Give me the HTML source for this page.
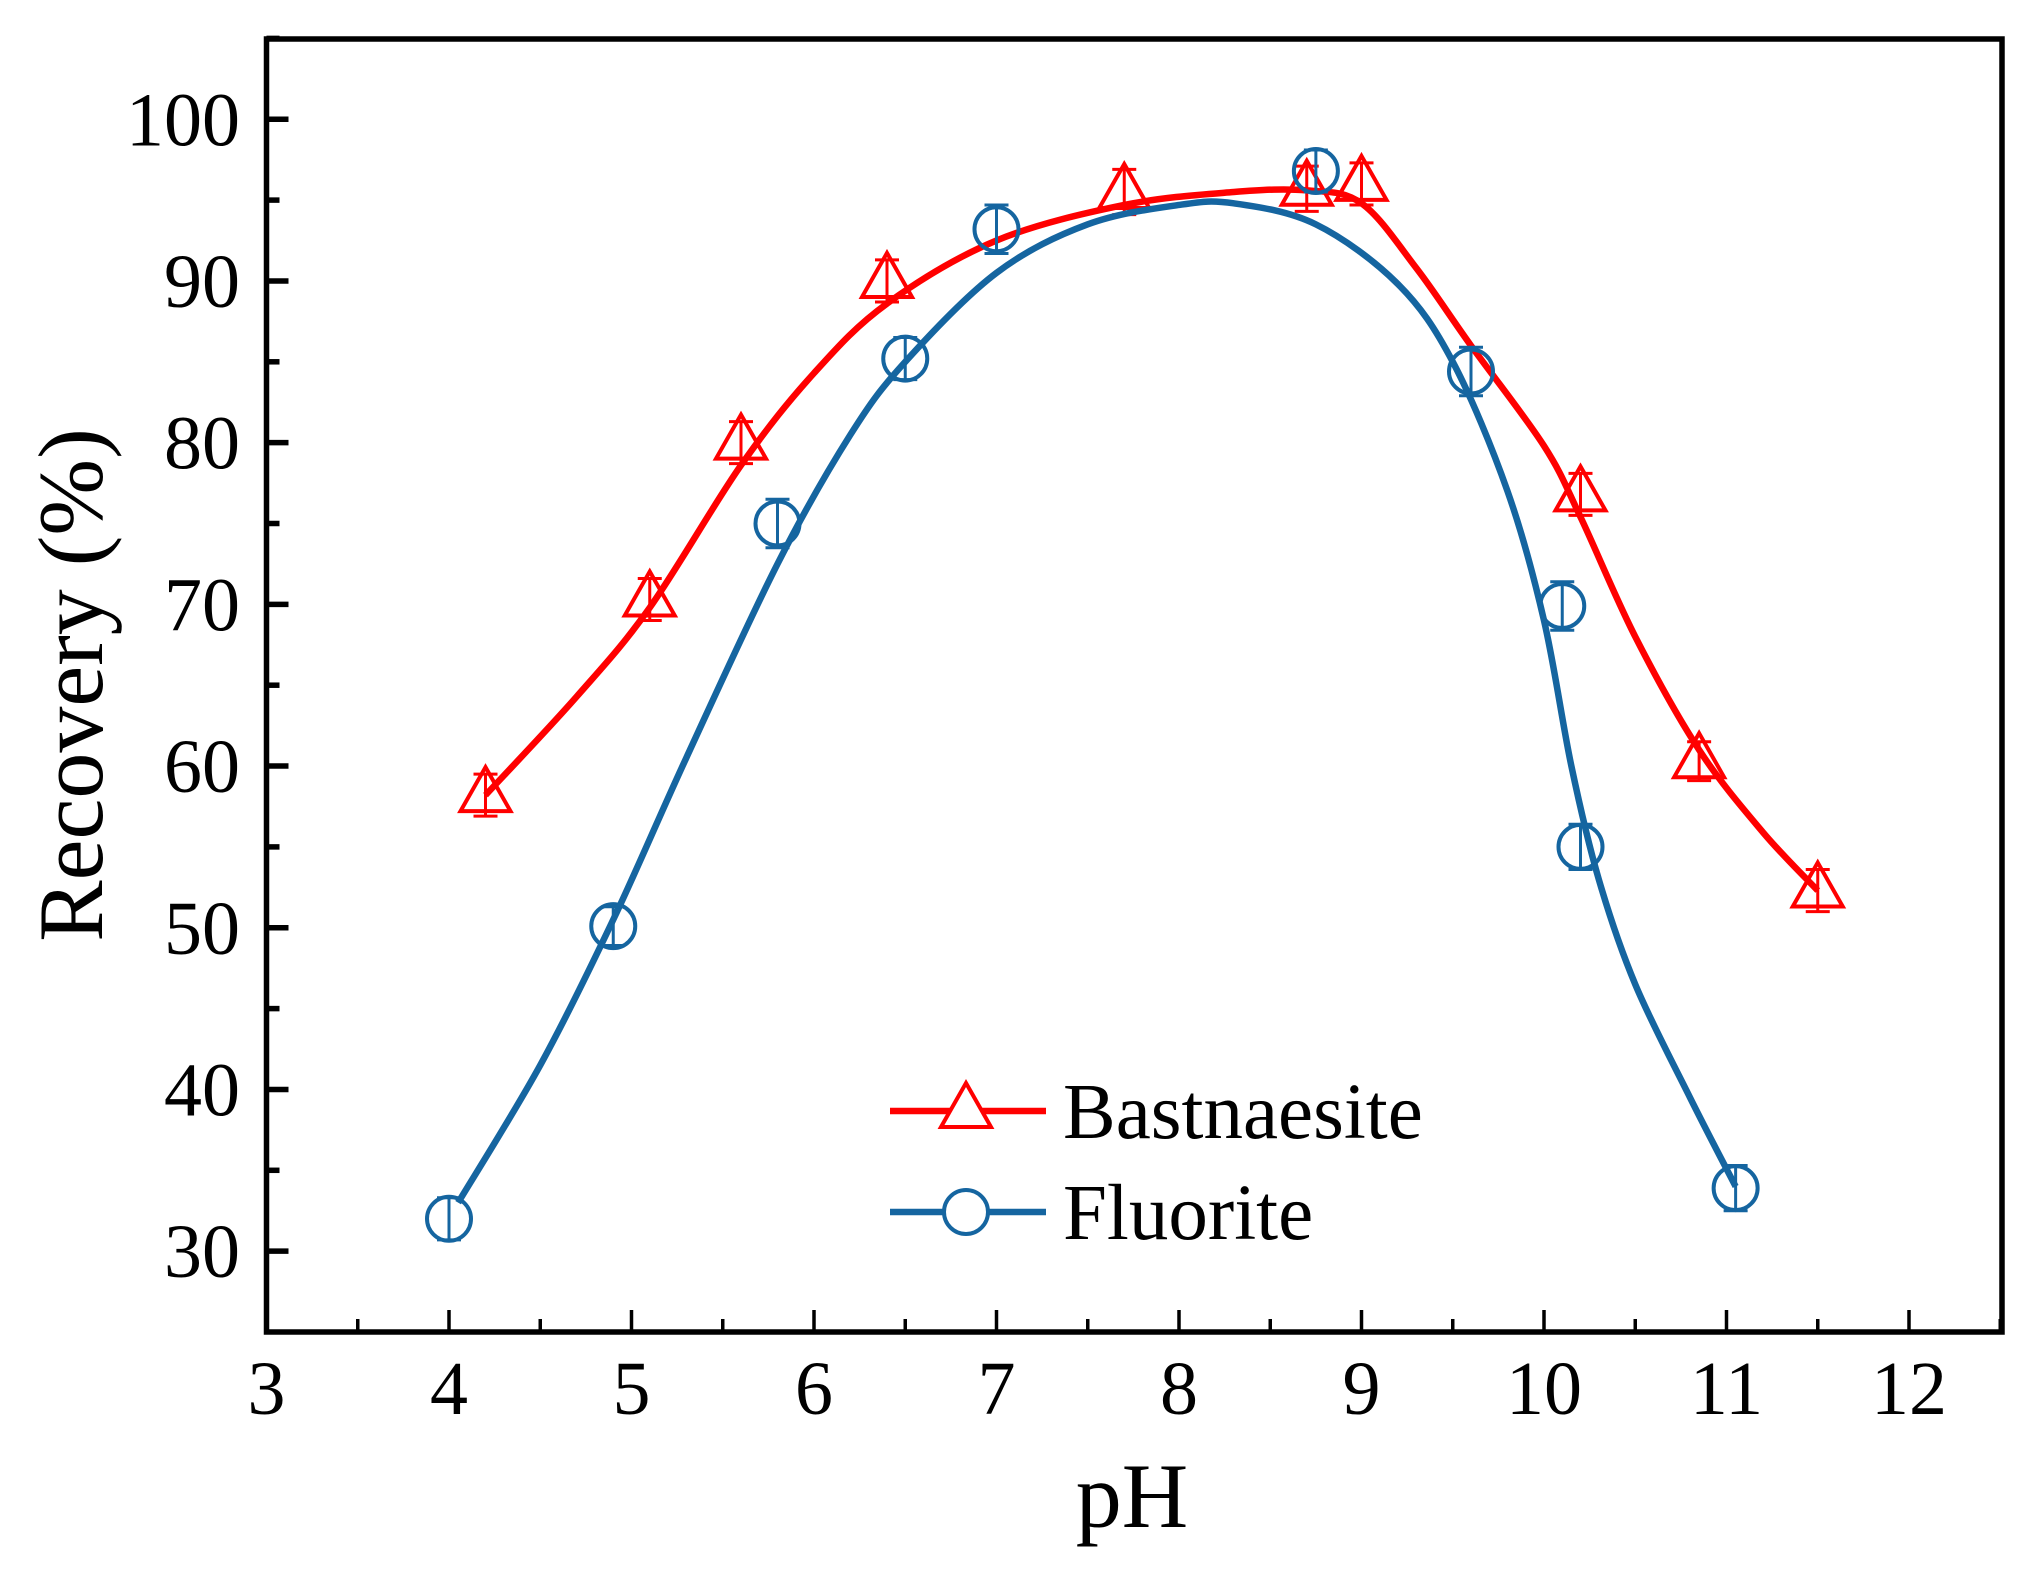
<!DOCTYPE html>
<html><head><meta charset="utf-8"><style>
html,body{margin:0;padding:0;background:#fff;}
svg{display:block;font-family:"Liberation Serif",serif;}
</style></head><body>
<svg id="chart" width="2038" height="1584" viewBox="0 0 2038 1584" xmlns="http://www.w3.org/2000/svg">
<rect width="2038" height="1584" fill="#fff"/>
<g id="plot"></g>
</svg>
<script>
const xTicks=[3,4,5,6,7,8,9,10,11,12];
const yTicks=[30,40,50,60,70,80,90,100];
const bastX=[4.2,5.1,5.6,6.4,7.7,8.7,9.0,10.2,10.85,11.5];
const bastY=[58.2,70.3,80.0,90.0,95.5,95.7,96.0,76.8,60.3,52.3];
const bastErr=[1.3,1.3,1.3,1.3,1.4,1.4,1.3,1.3,1.2,1.3];
const fluX=[4.0,4.9,5.8,6.5,7.0,8.75,9.6,10.1,10.2,11.05];
const fluY=[32.0,50.1,75.0,85.2,93.2,96.8,84.4,69.9,55.0,33.9];
const fluErr=[1.3,1.2,1.5,1.3,1.5,1.3,1.5,1.5,1.4,1.4];
const bastFitX=[4.2,4.7,5.1,5.6,6.0,6.4,7.0,7.7,8.3,8.7,9.0,9.3,9.6,10.0,10.2,10.5,10.85,11.2,11.5];
const bastFitY=[58.2,64.3,69.8,78.6,84.3,88.6,92.5,94.7,95.5,95.6,94.8,90.8,86.0,79.8,75.4,68.0,61.0,55.9,52.3];
const fluFitX=[4.05,4.5,4.9,5.3,5.8,6.2,6.5,7.0,7.5,8.0,8.3,8.75,9.2,9.5,9.8,10.0,10.15,10.3,10.5,10.8,11.05];
const fluFitY=[33.0,41.5,50.5,60.5,72.5,80.5,85.0,90.5,93.5,94.7,94.8,93.5,89.8,85.0,77.0,69.0,60.0,53.0,46.5,39.5,34.0];

const NS="http://www.w3.org/2000/svg";
const L=266.5,R=2002,T=39,B=1332;
const X=v=>L+(v-3)*182.5;
const Y=v=>B-(v-25)*16.17;
const g=document.getElementById('plot');
function mk(tag,attrs,parent){const e=document.createElementNS(NS,tag);for(const k in attrs)e.setAttribute(k,attrs[k]);(parent||g).appendChild(e);return e;}
function smooth(xs,ys){const p=xs.map((x,i)=>[X(x),Y(ys[i])]);let d=`M${p[0][0]},${p[0][1]}`;
for(let i=0;i<p.length-1;i++){const p0=p[i-1]||p[i],p1=p[i],p2=p[i+1],p3=p[i+2]||p2;
d+=` C${p1[0]+(p2[0]-p0[0])/6},${p1[1]+(p2[1]-p0[1])/6} ${p2[0]-(p3[0]-p1[0])/6},${p2[1]-(p3[1]-p1[1])/6} ${p2[0]},${p2[1]}`;}return d;}

xTicks.forEach(v=>{
 const t=mk('line',{x1:X(v),x2:X(v),y1:B,y2:B-22,stroke:'#000','stroke-width':3.5});
 
 
 const lb=mk('text',{x:X(v),y:1414,'font-size':76,'text-anchor':'middle',fill:'#000'});lb.textContent=v;
 
 
});
for(let v=3.5;v<=12.5;v+=1){const m=mk('line',{x1:X(v),x2:X(v),y1:B,y2:B-13,stroke:'#000','stroke-width':3.5});
 
 }
yTicks.forEach(v=>{
 const t=mk('line',{x1:L,x2:L+22,y1:Y(v),y2:Y(v),stroke:'#000','stroke-width':5.5});
 
 
 const lb=mk('text',{x:240,y:Y(v)+26,'font-size':76,'text-anchor':'end',fill:'#000'});lb.textContent=v;
 
 
});
for(let v=35;v<=105;v+=10){const m=mk('line',{x1:L,x2:L+13,y1:Y(v),y2:Y(v),stroke:'#000','stroke-width':5.5});
 
 }

function series(name,xs,ys,errs,fx,fy,color,shape){
 const sg=mk('g',{});
 
 
 const c=mk('path',{d:smooth(fx,fy),fill:'none',stroke:color,'stroke-width':6.5},sg);
 
 
 xs.forEach((x,i)=>{
  const cx=X(x),cy=Y(ys[i]),yt=Y(ys[i]+errs[i]),yb=Y(ys[i]-errs[i]);
  const e=mk('path',{d:`M${cx},${yt}V${yb}M${cx-12},${yt}H${cx+12}M${cx-12},${yb}H${cx+12}`,stroke:color,'stroke-width':3,fill:'none'},sg);
  
  
  let m;
  if(shape==='tri') m=mk('path',{d:`M${cx},${cy-28}L${cx+25},${cy+16}L${cx-25},${cy+16}Z`,fill:'none',stroke:color,'stroke-width':4},sg);
  else m=mk('circle',{cx:cx,cy:cy,r:22,fill:'none',stroke:color,'stroke-width':4},sg);
  
  
 });
}
series('bastnaesite',bastX,bastY,bastErr,bastFitX,bastFitY,'#ff0000','tri');
series('fluorite',fluX,fluY,fluErr,fluFitX,fluFitY,'#1565a0','circ');

const fr=mk('rect',{x:L,y:T,width:R-L,height:B-T,fill:'none',stroke:'#000','stroke-width':5.5});



const lg=mk('g',{});


[['Bastnaesite','#ff0000','tri',1111,1138],['Fluorite','#1565a0','circ',1212,1239]].forEach(([n,c,s,y,by])=>{
 const e=mk('g',{},lg);
 
 
 mk('line',{x1:890,x2:1046,y1:y,y2:y,stroke:c,'stroke-width':6.5},e);
 if(s==='tri') mk('path',{d:`M966,${y-28}L991,${y+16}L941,${y+16}Z`,fill:'#fff',stroke:c,'stroke-width':4},e);
 else mk('circle',{cx:966,cy:y,r:22,fill:'#fff',stroke:c,'stroke-width':4},e);
 const t=mk('text',{x:1063,y:by,'font-size':79,fill:'#000'},e);t.textContent=n;
});

const xt=mk('text',{x:1132,y:1527,'font-size':92,'text-anchor':'middle',fill:'#000'});xt.textContent='pH';


const yt=mk('text',{x:0,y:0,'font-size':92,'text-anchor':'middle',fill:'#000',transform:'translate(102,685) rotate(-90)'});yt.textContent='Recovery (%)';


</script>
</body></html>
